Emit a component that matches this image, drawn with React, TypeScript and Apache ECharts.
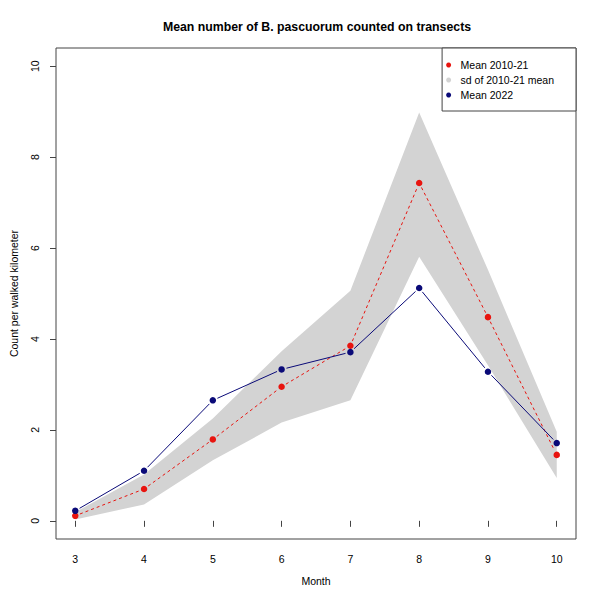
import React, { useEffect, useRef } from "react";
import * as echarts from "echarts";

// Monthly counts per walked kilometre
const months = [3, 4, 5, 6, 7, 8, 9, 10];
const mean2010_21 = [0.11, 0.7, 1.79, 2.95, 3.85, 7.43, 4.48, 1.45];
const sdLower = [0.03, 0.36, 1.33, 2.16, 2.65, 5.81, 3.42, 0.94];
const sdUpper = [0.19, 1.02, 2.25, 3.73, 5.06, 8.98, 5.52, 1.96];
const mean2022 = [0.22, 1.1, 2.65, 3.33, 3.71, 5.12, 3.28, 1.71];
const yTicks = [0, 2, 4, 6, 8, 10];

const FONT = "'Liberation Sans', Arial, Helvetica, sans-serif";
const FS = 10.5;
const RED = "#e8140f";
const NAVY = "#0a0a78";
const GREY = "#d3d3d3";
const AXIS = "#444444";

// Line segments between consecutive points, trimmed at both ends so the
// markers stand free of the connecting line.
function gappedLine(ys: number[], color: string, dash: number[] | null) {
  return (params: any, api: any) => {
    const i = params.dataIndex;
    if (i === 0) return null;
    const p0 = api.coord([months[i - 1], ys[i - 1]]);
    const p1 = api.coord([months[i], ys[i]]);
    const dx = p1[0] - p0[0];
    const dy = p1[1] - p0[1];
    const len = Math.sqrt(dx * dx + dy * dy);
    const gap = 5;
    if (len <= gap * 2) return null;
    const ux = dx / len;
    const uy = dy / len;
    return {
      type: "line",
      shape: {
        x1: p0[0] + ux * gap,
        y1: p0[1] + uy * gap,
        x2: p1[0] - ux * gap,
        y2: p1[1] - uy * gap,
      },
      style: { stroke: color, lineWidth: 1, lineDash: dash || undefined },
      silent: true,
    };
  };
}

export default function App() {
  const ref = useRef<HTMLDivElement>(null);

  useEffect(() => {
    if (!ref.current) return;
    const chart = echarts.init(ref.current, null, { renderer: "svg" });

    const bandData = months.map((m, i) => [m, sdLower[i], sdUpper[i]]);

    chart.setOption({
      animation: false,
      backgroundColor: "#ffffff",
      textStyle: { fontFamily: FONT },
      title: {
        text: "Mean number of B. pascuorum counted on transects",
        left: 312,
        textAlign: "center",
        top: 16,
        textStyle: { fontFamily: FONT, fontSize: 12.3, fontWeight: "bold", color: "#000" },
      },
      legend: {
        orient: "vertical",
        right: 26,
        top: 48,
        backgroundColor: "#fff",
        borderColor: AXIS,
        borderWidth: 1,
        borderRadius: 0,
        padding: [10, 22, 9, 4],
        itemGap: 1,
        itemWidth: 14,
        itemHeight: 5,
        icon: "circle",
        selectedMode: false,
        textStyle: { fontFamily: FONT, fontSize: FS, color: "#000", lineHeight: 14 },
        data: [
          { name: "Mean 2010-21", itemStyle: { color: RED } },
          { name: "sd of 2010-21 mean", itemStyle: { color: GREY } },
          { name: "Mean 2022", itemStyle: { color: NAVY } },
        ],
      },
      grid: {
        left: 48,
        right: 26,
        top: 48,
        bottom: 62,
        show: true,
        borderColor: AXIS,
        borderWidth: 1,
        backgroundColor: "transparent",
      },
      xAxis: {
        type: "value",
        min: 2.72,
        max: 10.28,
        name: "Month",
        nameLocation: "middle",
        nameGap: 36,
        nameTextStyle: { fontFamily: FONT, fontSize: FS, color: "#000" },
        axisLine: { show: false },
        splitLine: { show: false },
        axisTick: {
          show: true,
          length: 6,
          customValues: months,
          lineStyle: { color: AXIS },
        },
        axisLabel: {
          customValues: months,
          margin: 14,
          fontFamily: FONT,
          fontSize: FS,
          color: "#000",
        },
      },
      yAxis: {
        type: "value",
        min: -0.4,
        max: 10.4,
        name: "Count per walked kilometer",
        nameLocation: "middle",
        nameGap: 37,
        nameRotate: 90,
        nameTextStyle: { fontFamily: FONT, fontSize: FS, color: "#000" },
        axisLine: { show: false },
        splitLine: { show: false },
        axisTick: {
          show: true,
          length: 6,
          customValues: yTicks,
          lineStyle: { color: AXIS },
        },
        axisLabel: {
          customValues: yTicks,
          rotate: 90,
          margin: 16,
          fontFamily: FONT,
          fontSize: FS,
          color: "#000",
        },
      },
      series: [
        {
          name: "sd of 2010-21 mean",
          type: "custom",
          itemStyle: { color: GREY },
          data: bandData,
          encode: { x: 0, y: [1, 2] },
          z: 1,
          silent: true,
          renderItem: (params: any, api: any) => {
            if (params.dataIndex !== 0) return null;
            const upper = bandData.map((d) => api.coord([d[0], d[2]]));
            const lower = bandData.map((d) => api.coord([d[0], d[1]])).reverse();
            return {
              type: "polygon",
              shape: { points: upper.concat(lower) },
              style: { fill: GREY, stroke: "none" },
            };
          },
        },
        {
          name: "line2010",
          type: "custom",
          data: months.map((m, i) => [m, mean2010_21[i]]),
          encode: { x: 0, y: 1 },
          z: 2,
          silent: true,
          renderItem: gappedLine(mean2010_21, RED, [3, 3]),
        },
        {
          name: "line2022",
          type: "custom",
          data: months.map((m, i) => [m, mean2022[i]]),
          encode: { x: 0, y: 1 },
          z: 2,
          silent: true,
          renderItem: gappedLine(mean2022, NAVY, null),
        },
        {
          name: "Mean 2010-21",
          type: "scatter",
          symbol: "circle",
          symbolSize: 6.5,
          itemStyle: { color: RED, opacity: 1 },
          data: months.map((m, i) => [m, mean2010_21[i]]),
          z: 3,
        },
        {
          name: "Mean 2022",
          type: "scatter",
          symbol: "circle",
          symbolSize: 6.5,
          itemStyle: { color: NAVY, opacity: 1 },
          data: months.map((m, i) => [m, mean2022[i]]),
          z: 3,
        },
      ],
    });

    return () => chart.dispose();
  }, []);

  return (
    <div
      ref={ref}
      style={{ position: "fixed", left: 0, top: 0, width: 602, height: 601, background: "#fff" }}
    />
  );
}
